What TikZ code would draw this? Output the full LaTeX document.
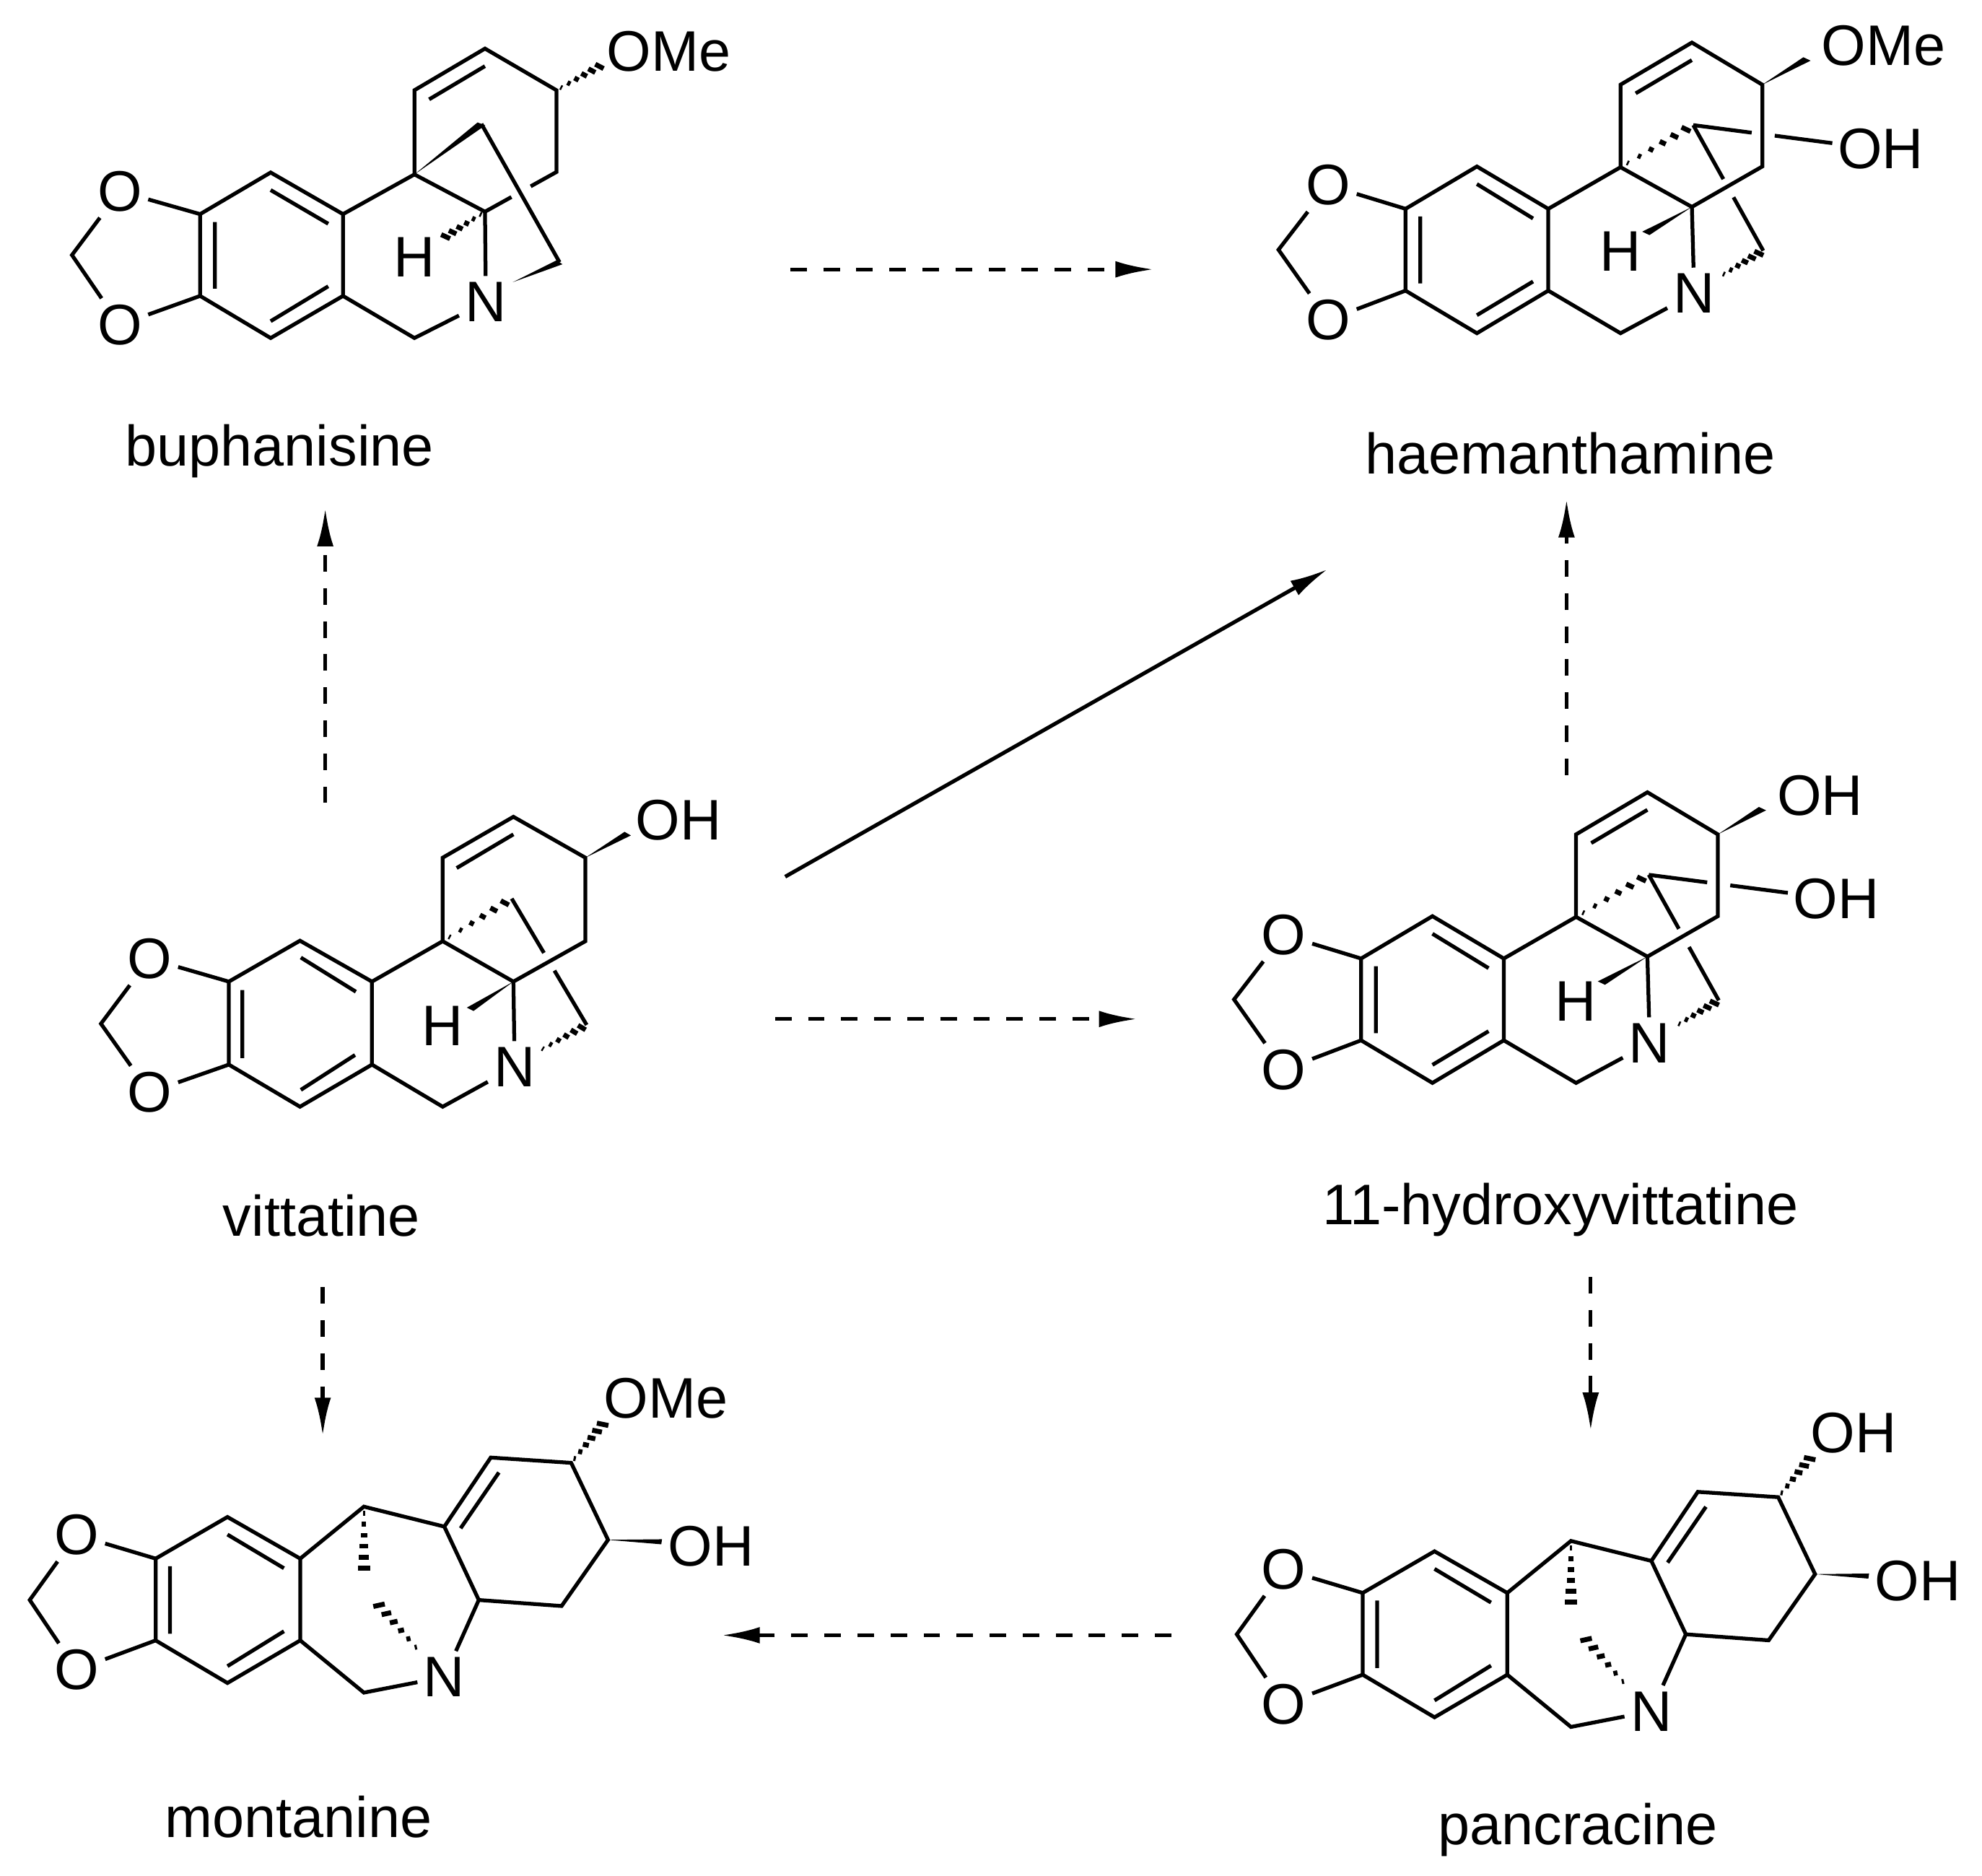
\documentclass[tikz,border=0pt]{standalone}
\usepackage{fontspec}
\setmainfont{Liberation Sans}
\usetikzlibrary{calc,arrows.meta}

\newcommand{\hashbond}[2]{%
  \foreach \t/\w in {0.1/0.7,0.26/1.3,0.42/1.9,0.58/2.5,0.74/3.1,0.9/3.7}
    \draw[hbond] ($(#1)!\t!(#2)!\w pt!90:(#2)$) -- ($(#1)!\t!(#2)!\w pt!-90:(#2)$);}
\newcommand{\wedgebond}[2]{%
  \fill ($(#2)!3pt!90:(#1)$) -- (#1) -- ($(#2)!3pt!-90:(#1)$) -- cycle;}

% haemanthamine type skeleton, #1 = group at C3
\newcommand{\haemcore}[1]{%
\coordinate (a1) at (388,808); \coordinate (a2) at (543,632);
\coordinate (a3) at (698,808); \coordinate (a4) at (698,1148);
\coordinate (a5) at (543,1325); \coordinate (a6) at (388,1148);
\coordinate (m) at (112,978);
\coordinate (c10b) at (855,635); \coordinate (c1) at (855,292);
\coordinate (c2) at (1010,117); \coordinate (c3) at (1163,292);
\coordinate (c4) at (1163,632); \coordinate (c4a) at (1010,800);
\coordinate (c6) at (855,1325); \coordinate (c11) at (1013,460);
\coordinate (c12) at (1165,982); \coordinate (ohend) at (1315,535);
\coordinate (ow) at (1260,185); \coordinate (hw) at (910,910);
\coordinate (nh) at (1070,1090);
\node[atom] (O1) at (220,710) {O};
\node[atom] (O2) at (220,1270) {O};
\node[atom,anchor=west] (R3) at (1278,130) {#1};
\node[atom] (OH11) at (1420,560) {OH};
\node[atom] (H) at (855,985) {H};
\node[atom] (N) at (1015,1160) {N};
\draw[bond] (a1) -- (a2) -- (a3) -- (a4) -- (a5) -- (a6) -- cycle;
\draw[bond] (543,705) -- (665,848) (420,840) -- (420,1118) (665,1110) -- (543,1250);
\draw[bond] (O1) -- (a1) (O2) -- (a6) (O1) -- (m) -- (O2);
\draw[bond] (a3) -- (c10b) -- (c1) -- (c2) -- (c3) -- (c4) -- (c4a) -- (c10b);
\draw[bond] (888,328) -- (1010,190);
\draw[bond] (a4) -- (c6) -- (N) (c4a) -- (N);
\draw[bond] (c11) -- ($(c11)!0.43!(c12)$) ($(c11)!0.575!(c12)$) -- (c12);
\draw[bond] (c11) -- ($(c11)!0.42!(ohend)$) ($(c11)!0.586!(ohend)$) -- (ohend);
\wedgebond{c3}{ow}
\wedgebond{c4a}{hw}
\hashbond{c10b}{c11}
\hashbond{nh}{c12}
}

% montanine type skeleton, #1 = group at C2
\newcommand{\montcore}[1]{%
\coordinate (a1) at (295,838); \coordinate (a2) at (445,665);
\coordinate (a3) at (597,838); \coordinate (a4) at (597,1178);
\coordinate (a5) at (445,1355); \coordinate (a6) at (295,1178);
\coordinate (m) at (32,1010);
\coordinate (c11) at (730,622); \coordinate (c11a) at (898,705);
\coordinate (c1) at (995,418); \coordinate (c2) at (1163,440);
\coordinate (c3) at (1240,760); \coordinate (c4) at (1143,1035);
\coordinate (c4a) at (970,1010); \coordinate (c6) at (730,1395);
\coordinate (c12) at (730,905); \coordinate (c12b) at (752,1010);
\coordinate (nh) at (848,1228); \coordinate (ow) at (1236,262);
\coordinate (hw) at (1352,768);
\node[atom] (O1) at (130,740) {O};
\node[atom] (O2) at (130,1300) {O};
\node[atom,anchor=west] (R2) at (1218,172) {#1};
\node[atom] (OH3) at (1455,788) {OH};
\node[atom] (N) at (898,1330) {N};
\draw[bond] (a1) -- (a2) -- (a3) -- (a4) -- (a5) -- (a6) -- cycle;
\draw[bond] (445,738) -- (563,878) (325,870) -- (325,1150) (563,1140) -- (445,1285);
\draw[bond] (O1) -- (a1) (O2) -- (a6) (O1) -- (m) -- (O2);
\draw[bond] (a3) -- (c11) -- (c11a) -- (c1) -- (c2) -- (c3) -- (c4) -- (c4a) -- (c11a);
\draw[bond] (932,712) -- (1012,480);
\draw[bond] (a4) -- (c6) -- (N) (c4a) -- (N);
\hashbond{c11}{c12}
\hashbond{nh}{c12b}
\hashbond{c2}{ow}
\wedgebond{c3}{hw}
}

\begin{document}
\begin{tikzpicture}[
x=0.01cm,y=-0.01cm,
bond/.style={line width=0.85pt},
hbond/.style={line width=1.1pt},
rxn/.style={line width=0.85pt,-{Latex[length=3mm,width=1.3mm]}},
drxn/.style={rxn,dash pattern=on 1.3mm off 1.3mm},
atom/.style={inner sep=1.2pt,font=\fontsize{12.8}{14}\selectfont},
cname/.style={font=\fontsize{12.8}{14}\selectfont}
]
\useasboundingbox (0,0) rectangle (1560,1476);

% buphanisine
\begin{scope}[shift={(39.77,19.88)},xscale=0.35143,yscale=0.18936]
\coordinate (a1) at (335,785); \coordinate (a2) at (493,612);
\coordinate (a3) at (655,785); \coordinate (a4) at (655,1125);
\coordinate (a5) at (493,1300); \coordinate (a6) at (335,1125);
\coordinate (m) at (48,955);
\coordinate (c10b) at (815,620); \coordinate (c1) at (815,270);
\coordinate (c2) at (973,97); \coordinate (c3) at (1133,270);
\coordinate (c4) at (1133,610); \coordinate (c4a) at (973,775);
\coordinate (c6) at (815,1300); \coordinate (c11) at (965,410);
\coordinate (c12) at (1140,985); \coordinate (ow) at (1240,160);
\coordinate (hw) at (875,890); \coordinate (nh) at (1035,1068);
\node[atom] (O1) at (155,690) {O};
\node[atom] (O2) at (155,1245) {O};
\node[atom] (OMe) at (1385,110) {OMe};
\node[atom] (H) at (815,965) {H};
\node[atom] (N) at (975,1150) {N};
\draw[bond] (a1) -- (a2) -- (a3) -- (a4) -- (a5) -- (a6) -- cycle;
\draw[bond] (493,685) -- (622,825) (368,818) -- (368,1095) (622,1085) -- (493,1230);
\draw[bond] (O1) -- (a1) (O2) -- (a6) (O1) -- (m) -- (O2);
\draw[bond] (a3) -- (c10b) -- (c1) -- (c2) -- (c3) -- (c4) -- ($(c4)!0.36!(c4a)$)
  ($(c4)!0.63!(c4a)$) -- (c4a) -- (c10b);
\draw[bond] (848,308) -- (973,170);
\draw[bond] (a4) -- (c6) -- (N) (c4a) -- (N);
\draw[bond] (c11) -- (c12);
\wedgebond{c10b}{c11}
\wedgebond{nh}{c12}
\hashbond{c3}{ow}
\hashbond{c4a}{hw}
\end{scope}

% vittatine
\begin{scope}[shift={(56.8,613.5)},xscale=0.3333,yscale=0.18936]
\coordinate (a1) at (370,840); \coordinate (a2) at (538,670);
\coordinate (a3) at (708,840); \coordinate (a4) at (708,1185);
\coordinate (a5) at (538,1360); \coordinate (a6) at (370,1185);
\coordinate (m) at (68,1015);
\coordinate (c10b) at (875,672); \coordinate (c1) at (875,325);
\coordinate (c2) at (1042,155); \coordinate (c3) at (1212,325);
\coordinate (c4) at (1212,672); \coordinate (c4a) at (1042,840);
\coordinate (c6) at (875,1360); \coordinate (c11) at (1038,495);
\coordinate (c12) at (1215,1020); \coordinate (ow) at (1312,225);
\coordinate (hw) at (940,955); \coordinate (nh) at (1100,1130);
\node[atom] (O1) at (183,745) {O};
\node[atom] (O2) at (183,1300) {O};
\node[atom] (OH) at (1432,168) {OH};
\node[atom] (H) at (875,1025) {H};
\node[atom] (N) at (1045,1195) {N};
\draw[bond] (a1) -- (a2) -- (a3) -- (a4) -- (a5) -- (a6) -- cycle;
\draw[bond] (540,740) -- (670,882) (402,875) -- (402,1158) (668,1145) -- (540,1290);
\draw[bond] (O1) -- (a1) (O2) -- (a6) (O1) -- (m) -- (O2);
\draw[bond] (a3) -- (c10b) -- (c1) -- (c2) -- (c3) -- (c4) -- (c4a) -- (c10b);
\draw[bond] (908,368) -- (1042,228);
\draw[bond] (a4) -- (c6) -- (N) (c4a) -- (N);
\draw[bond] (c11) -- ($(c11)!0.43!(c12)$) ($(c11)!0.57!(c12)$) -- (c12);
\wedgebond{c3}{ow}
\wedgebond{c4a}{hw}
\hashbond{c10b}{c11}
\hashbond{nh}{c12}
\end{scope}

% haemanthamine
\begin{scope}[shift={(965.7,11.36)},xscale=0.3623,yscale=0.18936]
\haemcore{OMe}
\end{scope}

% 11-hydroxyvittatine
\begin{scope}[shift={(930.7,601.4)},xscale=0.3623,yscale=0.18936]
\haemcore{OH}
\end{scope}

% montanine
\begin{scope}[shift={(11.36,1068)},xscale=0.37679,yscale=0.18936]
\montcore{OMe}
\end{scope}

% pancracine
\begin{scope}[shift={(961.4,1095)},xscale=0.37679,yscale=0.18936]
\montcore{OH}
\end{scope}

% compound names
\node[cname] (buph) at (220,355) {buphanisine};
\node[cname] (haem) at (1236,357) {haemanthamine};
\node[cname] (vitt) at (253,957) {vittatine};
\node[cname] (hvitt) at (1228,952) {11-hydroxyvittatine};
\node[cname] (mont) at (235,1430) {montanine};
\node[cname] (panc) at (1242,1440) {pancracine};

% arrows
\coordinate (s1) at (256,632); \coordinate (e1) at (256,400);
\coordinate (s2) at (622,212); \coordinate (e2) at (908,212);
\coordinate (s3) at (618,690); \coordinate (e3) at (1045,448);
\coordinate (s4) at (610,802); \coordinate (e4) at (895,802);
\coordinate (s5) at (1233,610); \coordinate (e5) at (1233,393);
\coordinate (s6) at (254,1013); \coordinate (e6) at (254,1130);
\coordinate (s7) at (1252,1005); \coordinate (e7) at (1252,1126);
\coordinate (s8) at (922,1287); \coordinate (e8) at (568,1287);
\draw[drxn] (s1) -- (e1);
\draw[drxn] (s2) -- (e2);
\draw[rxn] (s3) -- (e3);
\draw[drxn] (s4) -- (e4);
\draw[drxn] (s5) -- (e5);
\draw[drxn] (s6) -- (e6);
\draw[drxn] (s7) -- (e7);
\draw[drxn] (s8) -- (e8);
\end{tikzpicture}
\end{document}
